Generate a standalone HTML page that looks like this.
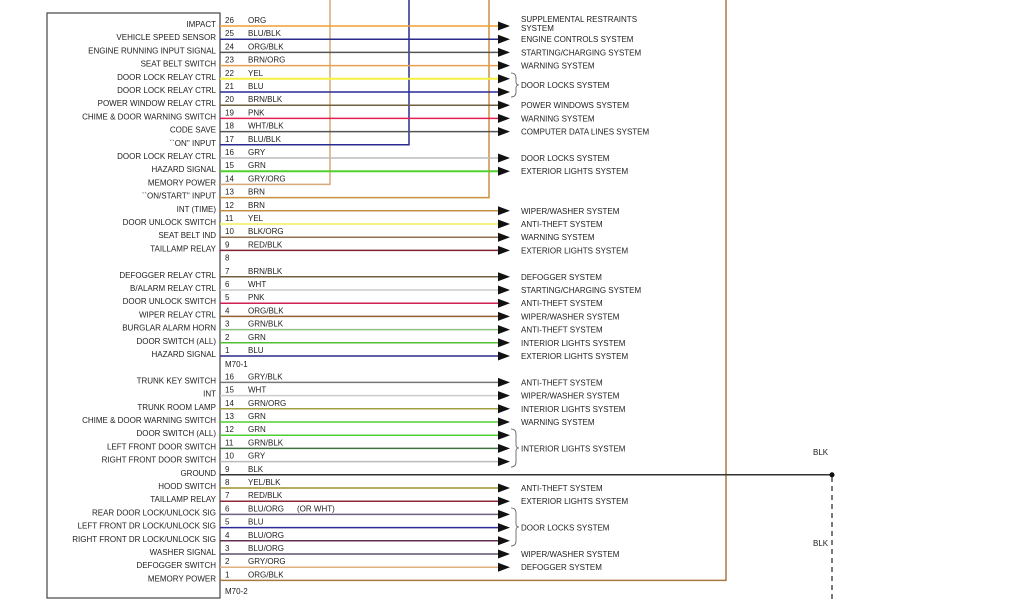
<!DOCTYPE html>
<html><head><meta charset="utf-8"><style>
html,body{margin:0;padding:0;background:#fff;}
svg{display:block;}
text{font-family:"Liberation Sans",sans-serif;font-size:8px;fill:#222;}
.l{text-anchor:end;}
</style></head><body>
<svg width="1024" height="600" viewBox="0 0 1024 600" xmlns="http://www.w3.org/2000/svg">
<rect x="47" y="13" width="173" height="585" fill="none" stroke="#444" stroke-width="1.2"/>
<!-- vertical risers -->
<polyline points="220,184.4 330,184.4 330,0" fill="none" stroke="#d8a878" stroke-width="1.5"/>
<polyline points="220,144.8 409,144.8 409,0" fill="none" stroke="#2a2a90" stroke-width="1.5"/>
<polyline points="220,197.6 489,197.6 489,0" fill="none" stroke="#c89040" stroke-width="1.5"/>
<polyline points="220,580.4 726,580.4 726,0" fill="none" stroke="#a87a40" stroke-width="1.5"/>
<!-- ground -->
<line x1="220" y1="474.8" x2="832" y2="474.8" stroke="#333" stroke-width="1.5"/>
<circle cx="832" cy="474.8" r="2.5" fill="#111"/>
<line x1="832" y1="477" x2="832" y2="600" stroke="#222" stroke-width="1.2" stroke-dasharray="5,4"/>
<text x="813" y="455">BLK</text>
<text x="813" y="546">BLK</text>
<g stroke-width="1.5" fill="none">
<line x1="220" y1="26" x2="500" y2="26" stroke="#f0a030"/>
<line x1="220" y1="39.2" x2="500" y2="39.2" stroke="#2a2a88"/>
<line x1="220" y1="52.4" x2="500" y2="52.4" stroke="#555"/>
<line x1="220" y1="65.6" x2="500" y2="65.6" stroke="#e8a050"/>
<line x1="220" y1="78.8" x2="500" y2="78.8" stroke="#f4f040" stroke-width="2"/>
<line x1="220" y1="92" x2="500" y2="92" stroke="#2a2a98"/>
<line x1="220" y1="105.2" x2="500" y2="105.2" stroke="#706040"/>
<line x1="220" y1="118.4" x2="500" y2="118.4" stroke="#e02050"/>
<line x1="220" y1="131.6" x2="500" y2="131.6" stroke="#555"/>
<line x1="220" y1="158" x2="500" y2="158" stroke="#bbb"/>
<line x1="220" y1="171.2" x2="500" y2="171.2" stroke="#50d030" stroke-width="2"/>
<line x1="220" y1="210.8" x2="500" y2="210.8" stroke="#c09040"/>
<line x1="220" y1="224" x2="500" y2="224" stroke="#f4f050"/>
<line x1="220" y1="237.2" x2="500" y2="237.2" stroke="#907050"/>
<line x1="220" y1="250.4" x2="500" y2="250.4" stroke="#802030"/>
<line x1="220" y1="276.8" x2="500" y2="276.8" stroke="#706040"/>
<line x1="220" y1="290" x2="500" y2="290" stroke="#ccc"/>
<line x1="220" y1="303.2" x2="500" y2="303.2" stroke="#d02050"/>
<line x1="220" y1="316.4" x2="500" y2="316.4" stroke="#906030"/>
<line x1="220" y1="329.6" x2="500" y2="329.6" stroke="#90c080"/>
<line x1="220" y1="342.8" x2="500" y2="342.8" stroke="#50c030"/>
<line x1="220" y1="356" x2="500" y2="356" stroke="#2a2a88"/>
<line x1="220" y1="382.4" x2="500" y2="382.4" stroke="#777"/>
<line x1="220" y1="395.6" x2="500" y2="395.6" stroke="#ccc"/>
<line x1="220" y1="408.8" x2="500" y2="408.8" stroke="#a0a040"/>
<line x1="220" y1="422" x2="500" y2="422" stroke="#50d030"/>
<line x1="220" y1="435.2" x2="500" y2="435.2" stroke="#50d030"/>
<line x1="220" y1="448.4" x2="500" y2="448.4" stroke="#407040"/>
<line x1="220" y1="461.6" x2="500" y2="461.6" stroke="#bbb"/>
<line x1="220" y1="488" x2="500" y2="488" stroke="#a09030"/>
<line x1="220" y1="501.2" x2="500" y2="501.2" stroke="#902838"/>
<line x1="220" y1="514.4" x2="500" y2="514.4" stroke="#706080"/>
<line x1="220" y1="527.6" x2="500" y2="527.6" stroke="#2a2a98"/>
<line x1="220" y1="540.8" x2="500" y2="540.8" stroke="#603050"/>
<line x1="220" y1="554" x2="500" y2="554" stroke="#605070"/>
<line x1="220" y1="567.2" x2="500" y2="567.2" stroke="#e0b080"/>
</g>
<g fill="#111">
<polygon points="498,21.5 510,26 498,30.5"/>
<polygon points="498,34.7 510,39.2 498,43.7"/>
<polygon points="498,47.9 510,52.4 498,56.9"/>
<polygon points="498,61.1 510,65.6 498,70.1"/>
<polygon points="498,74.3 510,78.8 498,83.3"/>
<polygon points="498,87.5 510,92 498,96.5"/>
<polygon points="498,100.7 510,105.2 498,109.7"/>
<polygon points="498,113.9 510,118.4 498,122.9"/>
<polygon points="498,127.1 510,131.6 498,136.1"/>
<polygon points="498,153.5 510,158 498,162.5"/>
<polygon points="498,166.7 510,171.2 498,175.7"/>
<polygon points="498,206.3 510,210.8 498,215.3"/>
<polygon points="498,219.5 510,224 498,228.5"/>
<polygon points="498,232.7 510,237.2 498,241.7"/>
<polygon points="498,245.9 510,250.4 498,254.9"/>
<polygon points="498,272.3 510,276.8 498,281.3"/>
<polygon points="498,285.5 510,290 498,294.5"/>
<polygon points="498,298.7 510,303.2 498,307.7"/>
<polygon points="498,311.9 510,316.4 498,320.9"/>
<polygon points="498,325.1 510,329.6 498,334.1"/>
<polygon points="498,338.3 510,342.8 498,347.3"/>
<polygon points="498,351.5 510,356 498,360.5"/>
<polygon points="498,377.9 510,382.4 498,386.9"/>
<polygon points="498,391.1 510,395.6 498,400.1"/>
<polygon points="498,404.3 510,408.8 498,413.3"/>
<polygon points="498,417.5 510,422 498,426.5"/>
<polygon points="498,430.7 510,435.2 498,439.7"/>
<polygon points="498,443.9 510,448.4 498,452.9"/>
<polygon points="498,457.1 510,461.6 498,466.1"/>
<polygon points="498,483.5 510,488 498,492.5"/>
<polygon points="498,496.7 510,501.2 498,505.7"/>
<polygon points="498,509.9 510,514.4 498,518.9"/>
<polygon points="498,523.1 510,527.6 498,532.1"/>
<polygon points="498,536.3 510,540.8 498,545.3"/>
<polygon points="498,549.5 510,554 498,558.5"/>
<polygon points="498,562.7 510,567.2 498,571.7"/>
</g>
<!-- braces -->
<g fill="none" stroke="#555" stroke-width="0.8">
<path d="M511,73 Q516,73 516,78 L516,82 Q516,85 519,85 Q516,85 516,88 L516,92 Q516,97 511,97"/>
<path d="M511,429 Q516,429 516,434 L516,445 Q516,448 519,448 Q516,448 516,451 L516,462 Q516,467 511,467"/>
<path d="M511,508 Q516,508 516,513 L516,524 Q516,527 519,527 Q516,527 516,530 L516,541 Q516,546 511,546"/>
</g>
<!-- left labels -->
<g class="l">
<text class="l" x="216" y="27">IMPACT</text>
<text class="l" x="216" y="40.2">VEHICLE SPEED SENSOR</text>
<text class="l" x="216" y="53.4">ENGINE RUNNING INPUT SIGNAL</text>
<text class="l" x="216" y="66.6">SEAT BELT SWITCH</text>
<text class="l" x="216" y="79.8">DOOR LOCK RELAY CTRL</text>
<text class="l" x="216" y="93">DOOR LOCK RELAY CTRL</text>
<text class="l" x="216" y="106.2">POWER WINDOW RELAY CTRL</text>
<text class="l" x="216" y="119.4">CHIME &amp; DOOR WARNING SWITCH</text>
<text class="l" x="216" y="132.6">CODE SAVE</text>
<text class="l" x="216" y="145.8">``ON'' INPUT</text>
<text class="l" x="216" y="159">DOOR LOCK RELAY CTRL</text>
<text class="l" x="216" y="172.2">HAZARD SIGNAL</text>
<text class="l" x="216" y="185.4">MEMORY POWER</text>
<text class="l" x="216" y="198.6">``ON/START'' INPUT</text>
<text class="l" x="216" y="211.8">INT (TIME)</text>
<text class="l" x="216" y="225">DOOR UNLOCK SWITCH</text>
<text class="l" x="216" y="238.2">SEAT BELT IND</text>
<text class="l" x="216" y="251.4">TAILLAMP RELAY</text>
<text class="l" x="216" y="277.8">DEFOGGER RELAY CTRL</text>
<text class="l" x="216" y="291">B/ALARM RELAY CTRL</text>
<text class="l" x="216" y="304.2">DOOR UNLOCK SWITCH</text>
<text class="l" x="216" y="317.4">WIPER RELAY CTRL</text>
<text class="l" x="216" y="330.6">BURGLAR ALARM HORN</text>
<text class="l" x="216" y="343.8">DOOR SWITCH (ALL)</text>
<text class="l" x="216" y="357">HAZARD SIGNAL</text>
<text class="l" x="216" y="383.4">TRUNK KEY SWITCH</text>
<text class="l" x="216" y="396.6">INT</text>
<text class="l" x="216" y="409.8">TRUNK ROOM LAMP</text>
<text class="l" x="216" y="423">CHIME &amp; DOOR WARNING SWITCH</text>
<text class="l" x="216" y="436.2">DOOR SWITCH (ALL)</text>
<text class="l" x="216" y="449.4">LEFT FRONT DOOR SWITCH</text>
<text class="l" x="216" y="462.6">RIGHT FRONT DOOR SWITCH</text>
<text class="l" x="216" y="475.8">GROUND</text>
<text class="l" x="216" y="489">HOOD SWITCH</text>
<text class="l" x="216" y="502.2">TAILLAMP RELAY</text>
<text class="l" x="216" y="515.4">REAR DOOR LOCK/UNLOCK SIG</text>
<text class="l" x="216" y="528.6">LEFT FRONT DR LOCK/UNLOCK SIG</text>
<text class="l" x="216" y="541.8">RIGHT FRONT DR LOCK/UNLOCK SIG</text>
<text class="l" x="216" y="555">WASHER SIGNAL</text>
<text class="l" x="216" y="568.2">DEFOGGER SWITCH</text>
<text class="l" x="216" y="581.4">MEMORY POWER</text>
</g>
<!-- pin numbers -->
<g>
<text x="225" y="23">26</text><text x="248" y="23">ORG</text>
<text x="225" y="36.2">25</text><text x="248" y="36.2">BLU/BLK</text>
<text x="225" y="49.4">24</text><text x="248" y="49.4">ORG/BLK</text>
<text x="225" y="62.6">23</text><text x="248" y="62.6">BRN/ORG</text>
<text x="225" y="75.8">22</text><text x="248" y="75.8">YEL</text>
<text x="225" y="89">21</text><text x="248" y="89">BLU</text>
<text x="225" y="102.2">20</text><text x="248" y="102.2">BRN/BLK</text>
<text x="225" y="115.4">19</text><text x="248" y="115.4">PNK</text>
<text x="225" y="128.6">18</text><text x="248" y="128.6">WHT/BLK</text>
<text x="225" y="141.8">17</text><text x="248" y="141.8">BLU/BLK</text>
<text x="225" y="155">16</text><text x="248" y="155">GRY</text>
<text x="225" y="168.2">15</text><text x="248" y="168.2">GRN</text>
<text x="225" y="181.4">14</text><text x="248" y="181.4">GRY/ORG</text>
<text x="225" y="194.6">13</text><text x="248" y="194.6">BRN</text>
<text x="225" y="207.8">12</text><text x="248" y="207.8">BRN</text>
<text x="225" y="221">11</text><text x="248" y="221">YEL</text>
<text x="225" y="234.2">10</text><text x="248" y="234.2">BLK/ORG</text>
<text x="225" y="247.4">9</text><text x="248" y="247.4">RED/BLK</text>
<text x="225" y="260.6">8</text>
<text x="225" y="273.8">7</text><text x="248" y="273.8">BRN/BLK</text>
<text x="225" y="287">6</text><text x="248" y="287">WHT</text>
<text x="225" y="300.2">5</text><text x="248" y="300.2">PNK</text>
<text x="225" y="313.4">4</text><text x="248" y="313.4">ORG/BLK</text>
<text x="225" y="326.6">3</text><text x="248" y="326.6">GRN/BLK</text>
<text x="225" y="339.8">2</text><text x="248" y="339.8">GRN</text>
<text x="225" y="353">1</text><text x="248" y="353">BLU</text>
<text x="225" y="367">M70-1</text>
<text x="225" y="379.4">16</text><text x="248" y="379.4">GRY/BLK</text>
<text x="225" y="392.6">15</text><text x="248" y="392.6">WHT</text>
<text x="225" y="405.8">14</text><text x="248" y="405.8">GRN/ORG</text>
<text x="225" y="419">13</text><text x="248" y="419">GRN</text>
<text x="225" y="432.2">12</text><text x="248" y="432.2">GRN</text>
<text x="225" y="445.4">11</text><text x="248" y="445.4">GRN/BLK</text>
<text x="225" y="458.6">10</text><text x="248" y="458.6">GRY</text>
<text x="225" y="471.8">9</text><text x="248" y="471.8">BLK</text>
<text x="225" y="485">8</text><text x="248" y="485">YEL/BLK</text>
<text x="225" y="498.2">7</text><text x="248" y="498.2">RED/BLK</text>
<text x="225" y="511.4">6</text><text x="248" y="511.4">BLU/ORG</text><text x="297" y="511.4">(OR WHT)</text>
<text x="225" y="524.6">5</text><text x="248" y="524.6">BLU</text>
<text x="225" y="537.8">4</text><text x="248" y="537.8">BLU/ORG</text>
<text x="225" y="551">3</text><text x="248" y="551">BLU/ORG</text>
<text x="225" y="564.2">2</text><text x="248" y="564.2">GRY/ORG</text>
<text x="225" y="577.4">1</text><text x="248" y="577.4">ORG/BLK</text>
<text x="225" y="594">M70-2</text>
</g>
<!-- destinations -->
<g>
<text x="521" y="22">SUPPLEMENTAL RESTRAINTS</text>
<text x="521" y="31">SYSTEM</text>
<text x="521" y="42.2">ENGINE CONTROLS SYSTEM</text>
<text x="521" y="55.4">STARTING/CHARGING SYSTEM</text>
<text x="521" y="68.6">WARNING SYSTEM</text>
<text x="521" y="88">DOOR LOCKS SYSTEM</text>
<text x="521" y="108.2">POWER WINDOWS SYSTEM</text>
<text x="521" y="121.4">WARNING SYSTEM</text>
<text x="521" y="134.6">COMPUTER DATA LINES SYSTEM</text>
<text x="521" y="161">DOOR LOCKS SYSTEM</text>
<text x="521" y="174.2">EXTERIOR LIGHTS SYSTEM</text>
<text x="521" y="213.8">WIPER/WASHER SYSTEM</text>
<text x="521" y="227">ANTI-THEFT SYSTEM</text>
<text x="521" y="240.2">WARNING SYSTEM</text>
<text x="521" y="253.4">EXTERIOR LIGHTS SYSTEM</text>
<text x="521" y="279.8">DEFOGGER SYSTEM</text>
<text x="521" y="293">STARTING/CHARGING SYSTEM</text>
<text x="521" y="306.2">ANTI-THEFT SYSTEM</text>
<text x="521" y="319.4">WIPER/WASHER SYSTEM</text>
<text x="521" y="332.6">ANTI-THEFT SYSTEM</text>
<text x="521" y="345.8">INTERIOR LIGHTS SYSTEM</text>
<text x="521" y="359">EXTERIOR LIGHTS SYSTEM</text>
<text x="521" y="385.4">ANTI-THEFT SYSTEM</text>
<text x="521" y="398.6">WIPER/WASHER SYSTEM</text>
<text x="521" y="411.8">INTERIOR LIGHTS SYSTEM</text>
<text x="521" y="425">WARNING SYSTEM</text>
<text x="521" y="451.4">INTERIOR LIGHTS SYSTEM</text>
<text x="521" y="491">ANTI-THEFT SYSTEM</text>
<text x="521" y="504.2">EXTERIOR LIGHTS SYSTEM</text>
<text x="521" y="530.6">DOOR LOCKS SYSTEM</text>
<text x="521" y="557">WIPER/WASHER SYSTEM</text>
<text x="521" y="570.2">DEFOGGER SYSTEM</text>
</g>
</svg>
</body></html>
